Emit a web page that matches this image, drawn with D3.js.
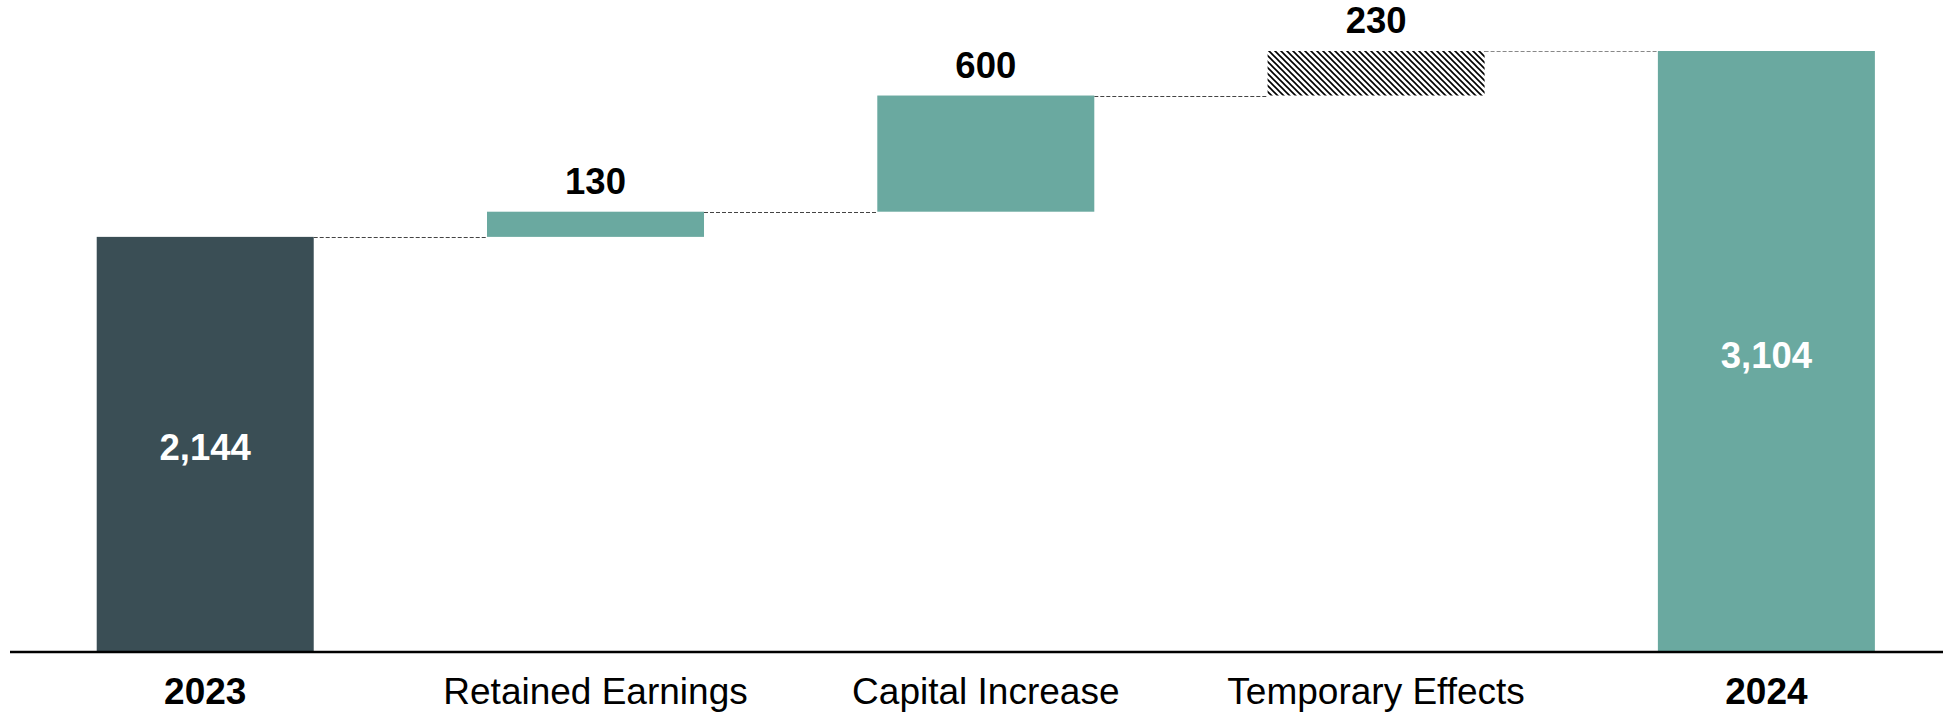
<!DOCTYPE html>
<html>
<head>
<meta charset="utf-8">
<script src="https://cdn.jsdelivr.net/npm/d3@7"></script>
<style>
  html, body { margin: 0; padding: 0; background: #fff; }
  svg { display: block; font-family: "Liberation Sans", Arial, sans-serif; }
</style>
</head>
<body>
<svg id="chart" width="1943" height="717"></svg>
<script>
const categories = ["2023", "Retained Earnings", "Capital Increase", "Temporary Effects", "2024"];
const values = [2144, 130, 600, 230, 3104];
const kinds = ["start", "step", "step", "temporary", "end"];

const W = 1943, H = 717;
const baseY = 652, topY = 51;
const svg = d3.select("#chart");

let running = 0;
const segs = categories.map((c, i) => {
  let y0, y1;
  if (kinds[i] === "start" || kinds[i] === "end") { y0 = 0; y1 = values[i]; running = values[i]; }
  else { y0 = running; y1 = running + values[i]; running = y1; }
  return { cat: c, value: values[i], kind: kinds[i], y0, y1 };
});

const x = d3.scaleBand().domain(categories).range([0, 1971.6]).paddingInner(0.444).paddingOuter(0.2478);
const y = d3.scaleLinear().domain([0, d3.max(segs, d => d.y1)]).range([baseY, topY]);

const defs = svg.append("defs");
const pat = defs.append("pattern").attr("id", "hatch").attr("patternUnits", "userSpaceOnUse")
  .attr("width", 6).attr("height", 6);
pat.append("rect").attr("width", 6).attr("height", 6).attr("fill", "#fff");
pat.append("path").attr("d", "M-1,-1 L7,7 M-7,-1 L1,7 M5,-1 L13,7")
  .attr("stroke", "#000").attr("stroke-width", 1.6);

const colors = { start: "#3A4E55", step: "#6AA9A0", end: "#6AA9A0", temporary: "url(#hatch)" };

for (let i = 0; i < segs.length - 1; i++) {
  const level = segs[i].y1;
  svg.append("line")
    .attr("x1", x(segs[i].cat) + x.bandwidth()).attr("x2", x(segs[i + 1].cat))
    .attr("y1", Math.round(y(level)) + 0.5).attr("y2", Math.round(y(level)) + 0.5)
    .attr("stroke", i === segs.length - 2 ? "#888" : "#444").attr("stroke-width", 1)
    .attr("stroke-dasharray", "4,2");
}

svg.selectAll("rect.bar").data(segs).join("rect").attr("class", "bar")
  .attr("x", d => x(d.cat)).attr("width", x.bandwidth())
  .attr("y", d => y(d.y1)).attr("height", d => y(d.y0) - y(d.y1))
  .attr("fill", d => colors[d.kind]);

const fmt = d3.format(",");
svg.selectAll("text.val").data(segs).join("text").attr("class", "val")
  .attr("x", d => x(d.cat) + x.bandwidth() / 2)
  .attr("y", d => (d.kind === "start" || d.kind === "end") ? (y(d.y0) + y(d.y1)) / 2 + 16 : y(d.y1) - 18)
  .attr("text-anchor", "middle")
  .attr("font-size", 36.5).attr("font-weight", "bold")
  .attr("fill", d => (d.kind === "start" || d.kind === "end") ? "#fff" : "#000")
  .text(d => fmt(d.value));

const axis = d3.axisBottom(x).tickSize(0).tickPadding(0);
const gAxis = svg.append("g").attr("transform", `translate(0,${baseY})`).call(axis);
gAxis.select(".domain").remove();
svg.append("line").attr("x1", 10).attr("x2", W).attr("y1", baseY).attr("y2", baseY)
  .attr("stroke", "#000").attr("stroke-width", 2.5);
gAxis.selectAll(".tick text")
  .attr("y", 52).attr("dy", 0)
  .attr("font-size", 37)
  .attr("font-family", "Liberation Sans, Arial, sans-serif")
  .attr("fill", "#000")
  .attr("font-weight", (d, i) => (kinds[i] === "start" || kinds[i] === "end") ? "bold" : "normal");
</script>
</body>
</html>
